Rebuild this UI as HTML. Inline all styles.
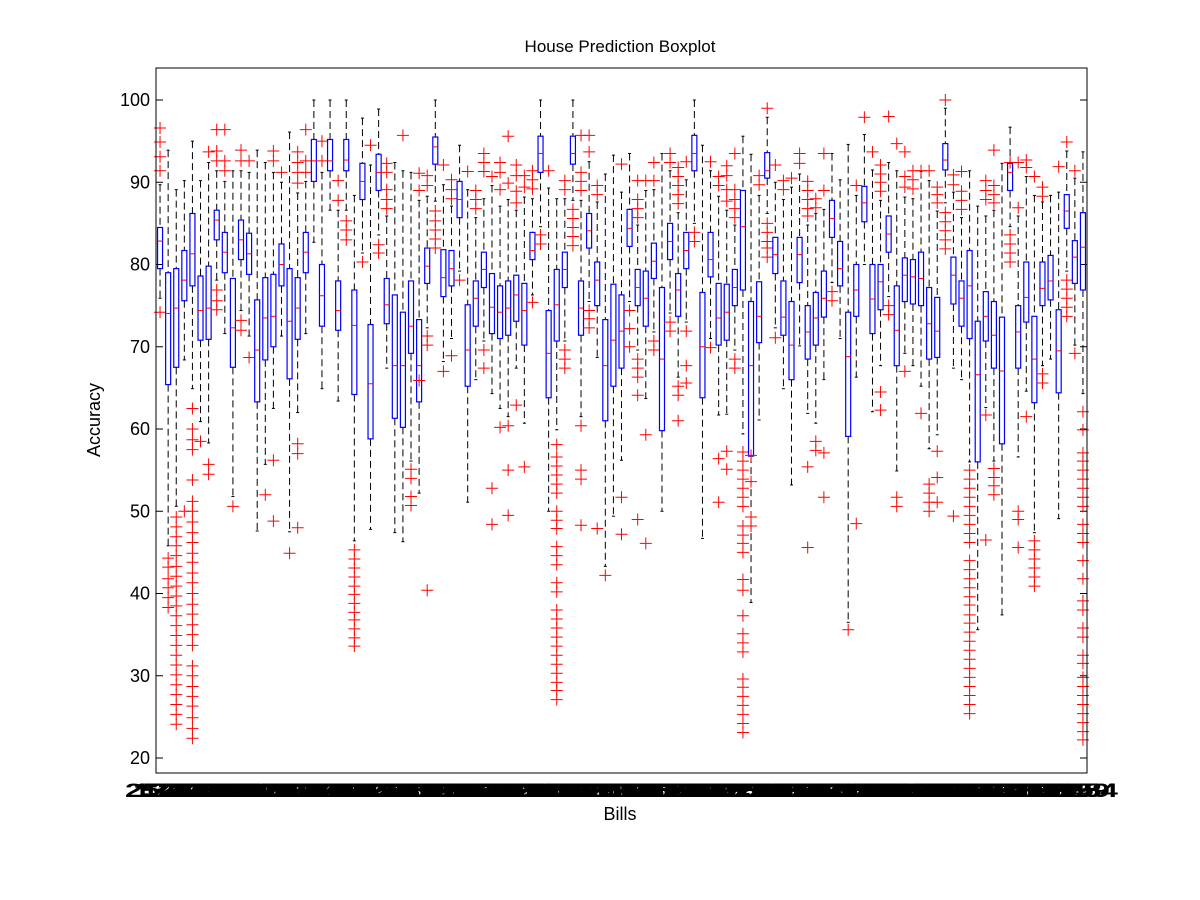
<!DOCTYPE html>
<html><head><meta charset="utf-8">
<style>
html,body{margin:0;padding:0;background:#fff;}
svg{display:block;font-family:"Liberation Sans",Arial,sans-serif;}
</style></head>
<body>
<svg id="chart" width="1200" height="900" viewBox="0 0 1200 900" xmlns="http://www.w3.org/2000/svg">
<rect x="0" y="0" width="1200" height="900" fill="#fff"/>
<text x="620" y="52" text-anchor="middle" font-size="17">House Prediction Boxplot</text>
<text x="0" y="0" transform="translate(100,420) rotate(-90)" text-anchor="middle" font-size="18">Accuracy</text>
<text x="620" y="820" text-anchor="middle" font-size="18">Bills</text>
<g id="plot"></g>
<rect x="156" y="68" width="931" height="705" fill="none" stroke="#000" stroke-width="1"/>
</svg>
<script>
const yTicks = [20,30,40,50,60,70,80,90,100];
const whiskerTop = [89.7,93.9,89.1,90.2,95.0,90.2,92.4,91.4,90.1,91.4,91.4,91.2,93.9,92.4,91.2,90.0,96.1,88.7,90.1,100,91.2,100,86.6,
100,88.4,97.8,92.1,98.9,85.9,92.4,91.4,91.2,87.8,88.3,100,89.7,87.1,94.5,89.1,85.7,88.0,89.6,87.1,87.9,86.6,88.2,
88.0,100,89.3,88.0,88.0,100,87.8,92.5,87.6,91.0,93.3,88.8,93.5,84.8,89.0,89.1,93.5,91.4,86.3,90.3,100,94.5,91.4,
88.3,86.6,84.8,95.6,93.4,88.4,97.9,90.0,87.9,89.4,91.0,84.8,86.2,86.7,93.5,90.3,94.6,88.4,95.8,91.5,87.8,92.4,91.4,
88.2,88.0,91.3,90.2,86.5,99.0,88.8,85.7,91.4,87.1,85.9,86.6,92.3,96.7,85.9,90.7,88.4,87.6,88.4,88.8,93.8,90.5,93.7];
const q3 = [84.5,79.0,79.5,81.7,86.2,78.6,79.8,86.6,83.9,78.3,85.4,83.8,75.7,78.4,78.8,82.5,79.5,78.4,83.9,95.2,80.0,95.2,78.0,
95.2,76.9,92.3,72.7,93.4,78.3,76.3,74.2,78.0,73.3,82.0,95.5,81.8,81.7,90.1,75.1,78.0,81.5,78.9,77.4,78.0,78.7,77.7,
83.9,95.6,74.4,79.4,81.5,95.6,78.0,86.2,80.3,73.3,77.6,76.3,86.7,79.4,79.2,82.6,77.2,85.0,78.9,83.9,95.7,76.6,83.9,
77.7,77.6,79.4,89.0,75.5,77.9,93.6,83.3,78.0,75.5,83.3,75.0,76.6,79.2,87.8,82.8,74.2,80.0,89.5,80.0,80.0,85.9,77.4,
80.8,80.6,81.5,77.2,76.0,94.7,80.9,78.0,81.7,73.1,76.7,75.5,73.6,92.3,75.0,80.3,73.7,80.3,81.1,74.5,88.5,82.9,86.3];
const medians = [82.85,74.05,74.7,78.1,81.3,74.4,74.7,85.4,81.5,72.3,83.0,81.3,69.6,73.5,73.7,80.0,73.1,74.7,81.5,92.6,76.2,92.6,74.4,
92.7,72.6,90.1,65.5,91.2,75.1,67.7,67.7,72.5,67.7,79.8,94.3,78.4,79.5,87.9,69.6,75.9,79.4,74.8,74.2,74.7,76.3,74.4,
81.7,93.5,69.2,75.1,79.4,93.5,74.7,84.1,78.1,67.7,70.8,71.9,84.4,77.2,75.9,80.4,68.5,82.8,76.9,81.7,93.5,70.0,80.6,
73.5,74.2,77.2,84.6,67.7,73.7,91.4,81.2,73.6,70.2,81.2,71.8,73.5,75.9,85.6,79.5,68.8,76.9,87.5,75.8,77.9,83.7,72.0,
78.7,78.5,78.3,72.8,71.9,92.7,78.7,75.9,77.4,66.6,73.7,71.4,67.05,91.2,71.8,76.0,68.5,77.1,78.0,69.5,86.5,80.9,82.1];
const q1 = [79.5,65.4,67.5,75.6,77.4,70.8,70.9,83.0,79.0,67.5,80.6,78.8,63.3,68.4,70.0,77.4,66.1,70.9,79.0,90.1,72.5,91.4,72.0,
91.4,64.2,87.9,58.8,89.0,72.8,61.3,60.2,69.2,63.3,77.7,92.2,76.1,77.4,85.7,65.2,72.5,77.2,71.6,71.0,71.4,73.1,70.2,
80.6,91.2,63.8,70.7,77.2,92.2,71.4,82.0,75.0,61.0,65.2,67.4,82.2,75.0,72.5,78.3,59.8,80.6,73.7,79.5,91.4,63.8,78.5,
70.2,70.8,75.0,76.9,56.7,70.5,90.5,78.9,71.4,66.0,77.8,68.5,70.2,73.6,83.3,77.4,59.1,73.7,85.2,71.6,74.5,81.5,67.7,
75.5,75.2,75.0,68.5,68.7,91.5,75.2,72.5,71.0,56.0,70.7,67.4,58.2,89.0,67.4,73.0,63.2,75.0,75.7,64.4,84.4,77.7,76.9];
const whiskerBottom = [75.9,45.8,50.6,68.4,64.9,60.9,58.3,78.1,71.6,51.8,74.4,71.3,47.6,55.7,62.5,71.3,47.5,62.0,71.6,82.7,64.9,86.6,63.4,
86.6,46.4,81.4,47.8,83.6,67.4,47.4,46.3,56.1,52.2,72.3,87.7,68.2,71.0,79.2,51.1,66.0,70.7,64.3,62.5,61.5,67.4,60.7,
76.3,84.6,50.0,59.9,70.7,87.8,61.5,75.5,68.7,43.3,49.4,56.2,75.5,69.6,63.7,71.8,50.0,74.1,66.3,73.0,85.0,46.7,71.0,
61.7,61.8,69.6,59.4,38.9,61.1,86.2,72.3,64.9,53.2,70.1,61.9,60.7,66.0,77.8,71.0,36.5,66.3,80.0,62.1,67.7,76.1,54.9,
69.2,67.7,65.2,57.6,59.3,87.5,67.4,66.0,56.0,35.6,62.6,56.1,37.4,84.6,56.6,64.6,47.4,67.7,68.5,49.1,79.2,70.2,64.3];
const outliers = [
[96.6,94.9,93.1,91.4,74.2],[44.3,43.2,41.8,40.7,39.5,38.3],
[49.3,48.1,46.9,45.8,44.6,43.3,42.1,40.9,39.7,38.5,37.3,36.1,34.9,33.7,32.5,31.3,30.1,28.9,27.7,26.5,25.3,24.1],
[50.0],
[62.5,60.0,58.7,57.5,53.8,51.2,50.0,48.7,47.4,46.2,44.9,43.8,42.5,41.3,40.0,38.7,37.5,36.2,35.0,33.7,31.2,30.0,28.7,27.5,26.3,24.9,23.6,22.4],
[58.5],[93.7,55.7,54.5],[96.4,93.8,92.6,76.9,75.6,74.5],[96.4,92.6,91.4],[50.6],[93.9,92.6,73.2,72.0],[92.6,68.7],[],[52.0],
[93.8,92.6,56.2,48.8],[91.2],[44.9],[93.7,92.4,91.2,89.9,58.2,57.0,48.0],[96.4,92.6,91.2],[],[95.0,92.6],[],[90.2,87.8],
[85.3,84.2,83.0],[45.3,44.2,43.1,42.0,40.9,39.9,38.8,37.7,36.8,35.7,34.6,33.6],[80.3],[94.5],[82.4,81.4],[92.3,91.2,89.1,87.9,86.8],
[],[95.7],[55.1,54.0,51.8,50.7],[91.1,89.0,65.9],[90.8,89.6,71.3,70.2,40.4],[86.5,85.3,84.2,83.1,82.0],[92.1,67.0],[90.3,89.1,88.0,68.9],
[78.1],[91.3],[89.0,87.9,86.8],[93.5,92.4,91.3,69.6,67.4],[90.7,52.8,48.4],[92.4,91.2,89.1,60.2],[95.6,89.9,60.4,55.0,49.5],
[92.1,90.8,88.9,87.5,62.9],[90.8,89.4,55.4],
[91.4,90.3,89.2,75.4],[83.6,82.5],[91.4],
[58.1,56.6,55.5,54.4,53.3,52.2,50.0,48.9,47.9,45.7,44.6,43.5,41.3,40.2,38.0,36.9,35.8,34.7,33.6,32.5,31.4,30.3,29.2,28.2,27.1],
[90.2,89.1,69.6,68.5,67.4],[86.7,85.6,84.5,83.4,82.3],[95.7,91.2,90.1,89.0,60.4,55.0,53.9,48.3],[95.7,93.7,74.4,73.4,72.3],
[89.6,88.5,47.9],[42.2],[],[92.2,51.7,47.2],[74.4,72.2,70.0],[90.2,87.9,86.8,85.7,68.5,67.4,66.3,64.1,49.0],[90.2,59.3,46.1],
[92.4,90.2,70.7,69.6],[],[93.5,92.4,73.0,71.9],[91.8,90.7,89.6,88.5,87.4,65.2,64.1,61.0],[92.5,71.9,67.7,65.6],[83.9,82.8],[],[92.5,69.9],
[90.7,89.6,56.4,51.1],[92.0,90.8,89.1,87.7,57.3,55.1],[93.5,89.1,87.9,86.8,85.7,68.5,67.4],
[57.2,56.1,55.0,53.9,52.8,51.7,50.6,48.2,47.1,46.1,45.0,41.7,40.4,37.3,35.1,34.0,32.9,29.6,28.6,27.5,26.4,25.3,24.2,23.1],
[56.8,53.6,49.3,48.2],[90.8,89.7],[99.0,85.0,83.9,82.8,82.0,80.9],[92.1,71.1],[90.2,89.1],[90.5],[93.5,92.3],
[90.1,89.0,87.9,86.8,85.9,55.4,45.6],[88.0,86.9,58.5,57.4],[93.5,89.0,57.1,51.7],[76.7,75.6],[],[35.6],[89.6,48.5],[97.9],[93.7],
[92.1,91.0,90.0,88.9,64.5,62.3],[98.0,75.0,73.9],[94.7,51.7,50.6],
[93.7,90.7,89.4,67.0],[91.4,90.3,89.2],[91.4,61.9],[91.4,53.3,52.2,51.1,50.0],[89.4,88.5,87.5,57.3,54.1,51.1],[100,86.3,85.2,84.1,83.0,81.9],
[90.9,89.7,49.4],[91.3,88.9,87.8,86.7],
[55.0,53.9,52.8,51.7,50.6,49.5,48.4,47.3,46.2,44.0,42.9,41.8,40.7,39.6,38.6,37.4,36.4,35.3,34.2,33.1,32.0,30.9,29.8,28.7,27.6,26.5,25.4],
[],[90.2,89.0,87.9,61.7,46.5],[93.9,89.6,88.5,87.5,55.2,54.1,53.1,52.0],[],[92.4,83.6,82.5,81.4,80.3],[92.4,86.9,50.0,49.0,45.6],
[92.7,91.8,61.5],[90.7,46.4,45.3,44.2,43.1,42.0,40.9],[89.4,88.3,66.7,65.6],[],[91.9],[94.9,78.1,77.0,75.9,74.8,73.7],[91.4,69.2],
[62.1,59.9,57.1,56.1,55.0,53.9,52.8,51.7,50.6,48.4,47.3,46.2,44.0,41.8,39.1,38.0,35.8,34.7,32.5,31.5,29.8,28.7,27.6,26.5,25.4,24.3,23.2,22.2]
];
const billLabels = [2577,1203,1441,3105,2086,7734,1631,9502,2303,4818,1869,1190,2744,6307,2015,8260,1522,2391,9044,1778,2615,2150,1347,
5871,2693,1017,1906,4420,2261,1376,7332,2487,1608,1695,2128,8572,1314,2580,3975,1966,1078,2811,5440,1437,2229,7016,
1815,2905,2644,1150,1987,6133,2402,1491,9265,1751,1108,2336,1273,6640,2071,1584,3629,2527,1125,1848,7901,2190,4789,
1402,2663,9714,1938,2206,2317,1239,6845,2468,1553,3321,2110,1044,1872,5708,2715,1386,8224,2031,1910,1662,2436,1107,
5147,2242,1468,8813,2607,2841,1799,1215,2371,6506,1993,1402,1573,2834,9308,1713,4359,2186,1294,7525,2588,3199,2254];
const nBoxes = q3.length;
const X0 = 156, X1 = 1087, Y_TOP = 68, Y_BOT = 773;
const step = (X1 - X0) / nBoxes;
function xPos(i){ return X0 + step * (i + 0.5); }
function yPos(v){ return 758 - (v - 20) * 8.225; }
const NS = "http://www.w3.org/2000/svg";
const plot = document.getElementById('plot');
function mk(tag, attrs, parent){
  const e = document.createElementNS(NS, tag);
  for (const k in attrs) e.setAttribute(k, attrs[k]);
  (parent || plot).appendChild(e);
  return e;
}
yTicks.forEach(t => {
  const y = yPos(t);
  const tl = mk('line', {x1:X0, x2:X0+7, y1:y, y2:y, stroke:'#000', 'stroke-width':1});
  
  
  const tr = mk('line', {x1:X1-7, x2:X1, y1:y, y2:y, stroke:'#000', 'stroke-width':1});
  
  
  const lb = mk('text', {x:X0-6, y:y+6, 'text-anchor':'end', 'font-size':18});
  lb.textContent = t;
  
  
});
for (let i = 0; i < nBoxes; i++){
  const x = xPos(i);
  const g = mk('g', {});
  
  
  const w1 = mk('line', {x1:x, x2:x, y1:yPos(whiskerTop[i]), y2:yPos(q3[i]), stroke:'#000', 'stroke-width':1, 'stroke-dasharray':'7,4'}, g);
  
  
  const w2 = mk('line', {x1:x, x2:x, y1:yPos(q1[i]), y2:yPos(whiskerBottom[i]), stroke:'#000', 'stroke-width':1, 'stroke-dasharray':'7,4'}, g);
  
  
  const c1 = mk('line', {x1:x-1.5, x2:x+1.5, y1:yPos(whiskerTop[i]), y2:yPos(whiskerTop[i]), stroke:'#000', 'stroke-width':1}, g);
  
  
  const c2 = mk('line', {x1:x-1.5, x2:x+1.5, y1:yPos(whiskerBottom[i]), y2:yPos(whiskerBottom[i]), stroke:'#000', 'stroke-width':1}, g);
  
  
  const r = mk('rect', {x:x-2.5, y:yPos(q3[i]), width:5, height:Math.max(1, yPos(q1[i]) - yPos(q3[i])), fill:'none', stroke:'#0000ff', 'stroke-width':1.2}, g);
  
  
  const m = mk('line', {x1:x-2.5, x2:x+2.5, y1:yPos(medians[i]), y2:yPos(medians[i]), stroke:'#ff0000', 'stroke-width':1}, g);
  
  
  outliers[i].forEach(v => {
    const y = yPos(v);
    const p = mk('path', {d:`M${x-6},${y}H${x+6}M${x},${y-6}V${y+6}`, stroke:'#ff0000', 'stroke-width':1, fill:'none'}, g);
    
    
  });
  const xl = mk('text', {x:x, y:797, 'text-anchor':'middle', 'font-size':19, 'font-weight':'bold', textLength:70, lengthAdjust:'spacingAndGlyphs'});
  xl.textContent = billLabels[i];
  
  
}
</script>
</body></html>
